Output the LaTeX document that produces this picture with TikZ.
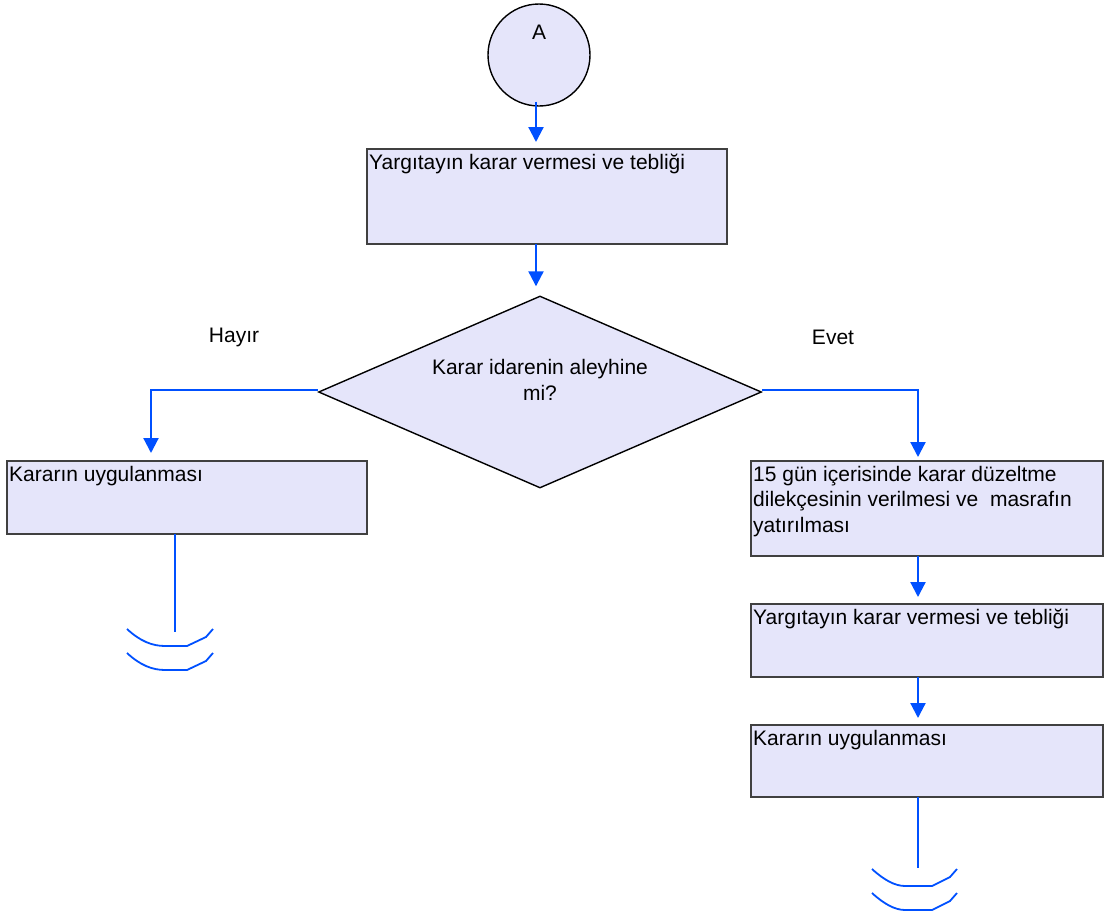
\documentclass[tikz,border=0pt]{standalone}
\usepackage{fontspec}
\setmainfont{Liberation Sans}
\usetikzlibrary{arrows.meta,shapes.geometric}
\definecolor{lav}{RGB}{229,229,250}
\definecolor{flowblue}{RGB}{0,80,255}
\tikzset{
  box/.style={draw=black!75, fill=lav, line width=1.4pt, inner sep=0pt, outer sep=0pt, anchor=north west},
  txt/.style={anchor=north west, inner xsep=2pt, inner ysep=5pt, align=left},
  arr/.style={draw=flowblue, line width=2.2pt, -{Triangle[width=15pt,length=15pt]}},
  lin/.style={draw=flowblue, line width=2.2pt},
}
\begin{document}
\begin{tikzpicture}[x=1pt, y=-1pt, font=\fontsize{21}{25.5}\selectfont]
\useasboundingbox (0,0) rectangle (1104,913);

\node[circle, draw, fill=lav, line width=1.4pt, minimum size=102pt, inner sep=0pt,
      label={[anchor=north, inner sep=0pt, yshift=-22pt]north:A}] (A) at (539,55) {};

\node[box, minimum width=360pt, minimum height=95pt,
      label={[txt]north west:Yargıtayın karar vermesi ve tebliği}] (y1) at (367,149) {};

\node[diamond, draw, fill=lav, line width=1.4pt, minimum width=443pt, minimum height=192pt, inner sep=0pt,
      label={[align=center, yshift=12pt]center:Karar idarenin aleyhine\\mi?}] (q) at (540,392) {};

\node (hayir) at (234,337) {Hayır};
\node (evet) at (833,337) {Evet};

\node[box, minimum width=360pt, minimum height=73pt,
      label={[txt]north west:Kararın uygulanması}] (k1) at (7,461) {};

\node[box, minimum width=352pt, minimum height=95pt,
      label={[txt]north west:15 gün içerisinde karar düzeltme\\dilekçesinin verilmesi ve\ \ masrafın\\yatırılması}] (d1) at (751,461) {};
\node[box, minimum width=352pt, minimum height=73pt,
      label={[txt]north west:Yargıtayın karar vermesi ve tebliği}] (d2) at (751,604) {};
\node[box, minimum width=352pt, minimum height=72pt,
      label={[txt]north west:Kararın uygulanması}] (d3) at (751,725) {};

\coordinate (k1e) at (175,632);
\coordinate (d3e) at (918,868);

\draw[arr, shorten >=7pt] ([xshift=-3pt,yshift=5pt]A.south) -- ([xshift=-3pt]A.south |- y1.north);
\draw[arr, shorten >=9pt] ([xshift=-4pt]q.north |- y1.south) -- ([xshift=-4pt]q.north);
\draw[arr, shorten >=8pt] ([yshift=2pt]q.west) -| ([xshift=-36pt]k1.north);
\draw[arr, shorten >=4pt] ([yshift=2pt]q.east) -| ([xshift=-9pt]d1.north);
\draw[arr, shorten >=7pt] ([xshift=-9pt]d1.south) -- ([xshift=-9pt]d2.north);
\draw[arr, shorten >=7pt] ([xshift=-9pt]d2.south) -- ([xshift=-9pt]d3.north);
\draw[lin] (k1e |- k1.south) -- (k1e);
\draw[lin] (d3e |- d3.south) -- (d3e);

\foreach \dy in {0,24} {
  \draw[lin, line width=1.8pt] (127,629+\dy) .. controls (140,641+\dy) and (152,646+\dy) .. (165,646+\dy)
     -- (187,646+\dy) -- (206,637+\dy) -- (213,629+\dy);
  \draw[lin, line width=1.8pt] (872,869+\dy) .. controls (884,880+\dy) and (895,886+\dy) .. (905,886+\dy)
     -- (932,886+\dy) -- (950,877+\dy) -- (957,869+\dy);
}
\end{tikzpicture}
\end{document}
